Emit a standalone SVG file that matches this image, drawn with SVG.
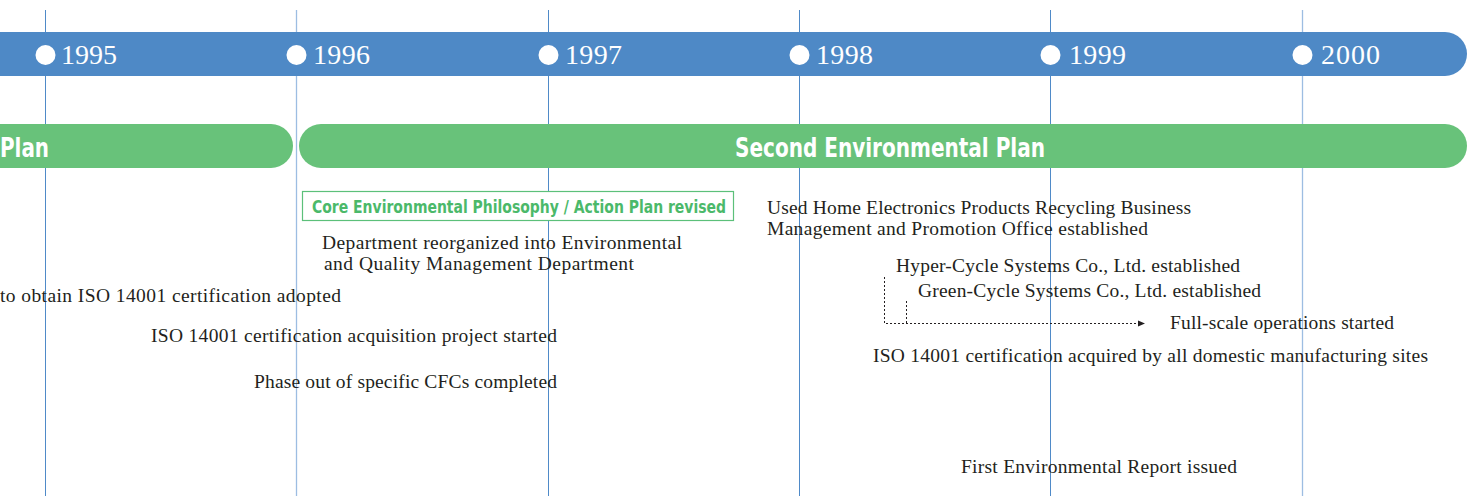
<svg xmlns="http://www.w3.org/2000/svg" width="1467" height="496" viewBox="0 0 1467 496">
<style>
.grid{stroke:#4f8ac8;stroke-width:1}
.grid2{stroke:#9dbde2;stroke-width:1.3}
.year{font-family:"Liberation Serif",serif;font-size:28px;fill:#fff}
.dot{fill:#fff}
.plan{font-family:"Liberation Sans Narrow","DejaVu Sans Condensed","Liberation Sans",sans-serif;font-weight:bold;font-size:26px;fill:#fff}
.ev{font-family:"Liberation Serif",serif;font-size:19.5px;fill:#231f20}
.core{font-family:"Liberation Sans Narrow","DejaVu Sans Condensed","Liberation Sans",sans-serif;font-weight:bold;font-size:17.5px;fill:#4bb96a}
.dash{fill:none;stroke:#231f20;stroke-width:1;stroke-dasharray:2 2}
</style>
<defs>
<marker id="arr" viewBox="0 0 8 8" refX="7" refY="4" markerWidth="8" markerHeight="8" orient="auto" markerUnits="userSpaceOnUse">
<path d="M0,1 L7,4 L0,7 Z" fill="#231f20"/>
</marker>
</defs>
<rect width="1467" height="496" fill="#fff"/>
<g id="gridlines">
<line class="grid" x1="45.5" y1="10" x2="45.5" y2="496"/>
<line class="grid2" x1="296.5" y1="10" x2="296.5" y2="496"/>
<line class="grid" x1="548.5" y1="10" x2="548.5" y2="496"/>
<line class="grid" x1="799.5" y1="10" x2="799.5" y2="496"/>
<line class="grid" x1="1050.5" y1="10" x2="1050.5" y2="496"/>
<line class="grid2" x1="1302.5" y1="10" x2="1302.5" y2="496"/>
</g>
<g id="yearbar">
<path d="M0,32 H1445 A22,22 0 0 1 1445,76 H0 Z" fill="#4e89c6"/>
<circle class="dot" cx="45.5" cy="55" r="10"/>
<circle class="dot" cx="296.5" cy="55" r="10"/>
<circle class="dot" cx="548.5" cy="55" r="10"/>
<circle class="dot" cx="799.5" cy="55" r="10"/>
<circle class="dot" cx="1050.5" cy="55" r="10"/>
<circle class="dot" cx="1302.5" cy="55" r="10"/>
<text class="year" x="61" y="64" textLength="56">1995</text>
<text class="year" x="313" y="64" textLength="57">1996</text>
<text class="year" x="565" y="64" textLength="57">1997</text>
<text class="year" x="816" y="64" textLength="57">1998</text>
<text class="year" x="1069" y="64" textLength="57">1999</text>
<text class="year" x="1321" y="64" textLength="59">2000</text>
</g>
<g id="plan1">
<path d="M0,124 H271 A22,22 0 0 1 271,168 H0 Z" fill="#68c27a"/>
<text class="plan" x="0" y="157" textLength="49" lengthAdjust="spacingAndGlyphs">Plan</text>
</g>
<g id="plan2">
<path d="M321,124 H1445 A22,22 0 0 1 1445,168 H321 A22,22 0 0 1 321,124 Z" fill="#68c27a"/>
<text class="plan" x="735" y="157" textLength="310" lengthAdjust="spacingAndGlyphs">Second Environmental Plan</text>
</g>
<g id="core">
<rect x="302.5" y="191.5" width="431" height="29" fill="#fff" stroke="#5cc07a" stroke-width="1.2"/>
<text class="core" x="312" y="213" textLength="414" lengthAdjust="spacingAndGlyphs">Core Environmental Philosophy / Action Plan revised</text>
</g>
<g id="dept">
<text class="ev" x="322" y="249" textLength="360">Department reorganized into Environmental</text>
<text class="ev" x="324" y="270" textLength="310">and Quality Management Department</text>
</g>
<g id="recycling">
<text class="ev" x="767" y="214" textLength="424">Used Home Electronics Products Recycling Business</text>
<text class="ev" x="767" y="235" textLength="381">Management and Promotion Office established</text>
</g>
<g id="hyper"><text class="ev" x="896" y="272" textLength="344">Hyper-Cycle Systems Co., Ltd. established</text></g>
<g id="green"><text class="ev" x="918" y="297" textLength="343">Green-Cycle Systems Co., Ltd. established</text></g>
<g id="fullscale"><text class="ev" x="1170" y="329" textLength="224">Full-scale operations started</text></g>
<g id="isoall"><text class="ev" x="873" y="362" textLength="555">ISO 14001 certification acquired by all domestic manufacturing sites</text></g>
<g id="isoadopt"><text class="ev" x="0" y="302" textLength="341">to obtain ISO 14001 certification adopted</text></g>
<g id="isoproject"><text class="ev" x="151" y="342" textLength="406">ISO 14001 certification acquisition project started</text></g>
<g id="cfc"><text class="ev" x="254" y="388" textLength="303">Phase out of specific CFCs completed</text></g>
<g id="report"><text class="ev" x="961" y="473" textLength="276">First Environmental Report issued</text></g>
<g id="connectors">
<path class="dash" d="M884.5,277 V323.5 H1145" marker-end="url(#arr)"/>
<path class="dash" d="M906.5,301 V323.5"/>
</g>
</svg>
